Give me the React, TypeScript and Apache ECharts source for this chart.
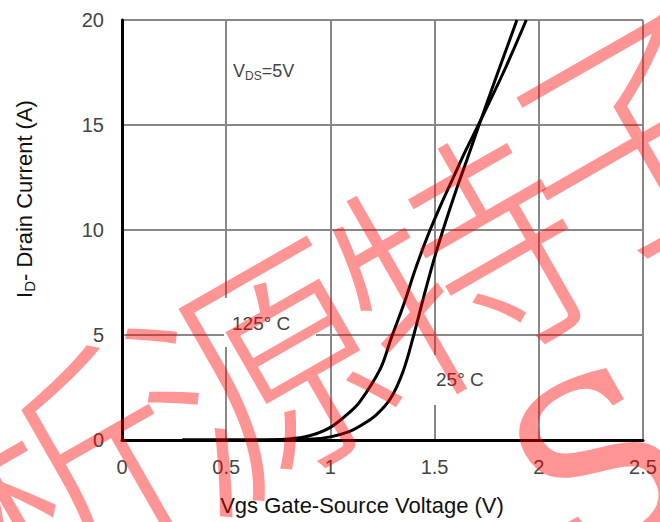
import React, { useEffect, useRef } from "react";
import * as echarts from "echarts";

const xTicks = [0, 0.5, 1, 1.5, 2, 2.5];
const yTicks = [0, 5, 10, 15, 20];

const curve125: [number, number][] = [
  [0.29, 0], [0.6, 0], [0.8, 0.05], [0.9, 0.2], [1.0, 0.6], [1.09, 1.3], [1.14, 1.8],
  [1.24, 3.4], [1.29, 4.8], [1.35, 6.4], [1.41, 8.2], [1.47, 9.8], [1.53, 11.2],
  [1.59, 12.5], [1.65, 13.8], [1.71, 15.0], [1.83, 17.5], [1.94, 20],
];
const curve25: [number, number][] = [
  [0.29, 0], [0.7, 0], [0.9, 0.04], [1.0, 0.15], [1.09, 0.4], [1.14, 0.65], [1.22, 1.2],
  [1.29, 2.0], [1.35, 3.3], [1.4, 5.0], [1.45, 6.9], [1.5, 8.7], [1.55, 10.3],
  [1.6, 11.8], [1.65, 13.2], [1.71, 14.9], [1.8, 17.4], [1.895, 20],
];

const watermarkChars = ["析", "源", "特", "子"];

const FONT = "'Liberation Sans', Arial, sans-serif";

export default function App() {
  const ref = useRef<HTMLDivElement>(null);
  useEffect(() => {
    if (!ref.current) return;
    const chart = echarts.init(ref.current, null, { renderer: "svg" });
    const wmPos = [
      [60, 470],
      [255, 365],
      [455, 252],
      [630, 125],
    ];
    const wm: any[] = watermarkChars.map((c, i) => ({
      type: "text",
      x: wmPos[i][0],
      y: wmPos[i][1],
      rotation: 0.52,
      z: 100,
      style: {
        text: c,
        fontSize: 245,
        fontWeight: 300,
        fontFamily: "'Noto Sans CJK SC', sans-serif",
        fill: "rgba(255,0,0,0.42)",
        align: "center",
        verticalAlign: "middle",
      },
    }));
    wm.push({
      type: "text",
      x: 600,
      y: 465,
      rotation: 0.52,
      z: 100,
      style: {
        text: "S",
        fontSize: 230,
        fontFamily: "'DejaVu Serif', serif",
        fill: "rgba(255,0,0,0.42)",
        align: "center",
        verticalAlign: "middle",
      },
    });
    chart.setOption({
      animation: false,
      backgroundColor: "#fff",
      grid: { left: 122, right: 17, top: 20, bottom: 82 },
      xAxis: {
        type: "value",
        min: xTicks[0],
        max: xTicks[xTicks.length - 1],
        interval: 0.5,
        axisLine: { show: true, onZero: false, lineStyle: { color: "#000", width: 3 } },
        axisTick: { show: false },
        axisLabel: {
          color: "#444",
          fontSize: 20,
          fontFamily: FONT,
          margin: 17,
          formatter: (v: number) => String(v),
        },
        splitLine: { show: true, lineStyle: { color: "#888", width: 2 } },
      },
      yAxis: {
        type: "value",
        min: yTicks[0],
        max: yTicks[yTicks.length - 1],
        interval: 5,
        axisLine: { show: true, onZero: false, lineStyle: { color: "#000", width: 3 } },
        axisTick: { show: false },
        axisLabel: { color: "#444", fontSize: 20, fontFamily: FONT, margin: 18 },
        splitLine: { show: true, lineStyle: { color: "#888", width: 2 } },
      },
      series: [
        {
          name: "125° C",
          type: "line",
          data: curve125,
          smooth: 0.35,
          showSymbol: false,
          lineStyle: { color: "#000", width: 3 },
          z: 3,
        },
        {
          name: "25° C",
          type: "line",
          data: curve25,
          smooth: 0.35,
          showSymbol: false,
          lineStyle: { color: "#000", width: 3 },
          z: 3,
        },
      ],
      graphic: [
        { type: "rect", shape: { x: 224, y: 298, width: 92, height: 49 }, style: { fill: "#fff" }, z: 5 },
        { type: "rect", shape: { x: 433, y: 355, width: 66, height: 50 }, style: { fill: "#fff" }, z: 5 },
        {
          type: "text", x: 232, y: 323, z: 6,
          style: { text: "125° C", fontSize: 19, fontFamily: FONT, fill: "#444", verticalAlign: "middle" },
        },
        {
          type: "text", x: 436, y: 379, z: 6,
          style: { text: "25° C", fontSize: 19, fontFamily: FONT, fill: "#444", verticalAlign: "middle" },
        },
        {
          type: "text", x: 233, y: 71, z: 6,
          style: {
            text: "{n|V}{s|DS}{n|=5V}",
            verticalAlign: "middle",
            rich: {
              n: { fontSize: 18, fontFamily: FONT, fill: "#444", color: "#444" },
              s: { fontSize: 12, fontFamily: FONT, fill: "#444", color: "#444", padding: [10, 0, 0, 0] },
            },
          },
        },
        {
          type: "text", x: 362, y: 505, z: 6,
          style: {
            text: "Vgs Gate-Source Voltage (V)", fontSize: 22, fontFamily: FONT, fill: "#111",
            align: "center", verticalAlign: "middle",
          },
        },
        {
          type: "text", x: 24, y: 199, rotation: Math.PI / 2, z: 6,
          style: {
            text: "{n|I}{s|D}{n|- Drain Current (A)}",
            align: "center",
            verticalAlign: "middle",
            rich: {
              n: { fontSize: 22, fontFamily: FONT, fill: "#111", color: "#111" },
              s: { fontSize: 15, fontFamily: FONT, fill: "#111", color: "#111", padding: [10, 0, 0, 0] },
            },
          },
        },
        ...wm,
      ],
    });
    return () => chart.dispose();
  }, []);
  return (
    <div
      ref={ref}
      style={{ position: "fixed", left: 0, top: 0, width: 660, height: 522, background: "#fff" }}
    />
  );
}
